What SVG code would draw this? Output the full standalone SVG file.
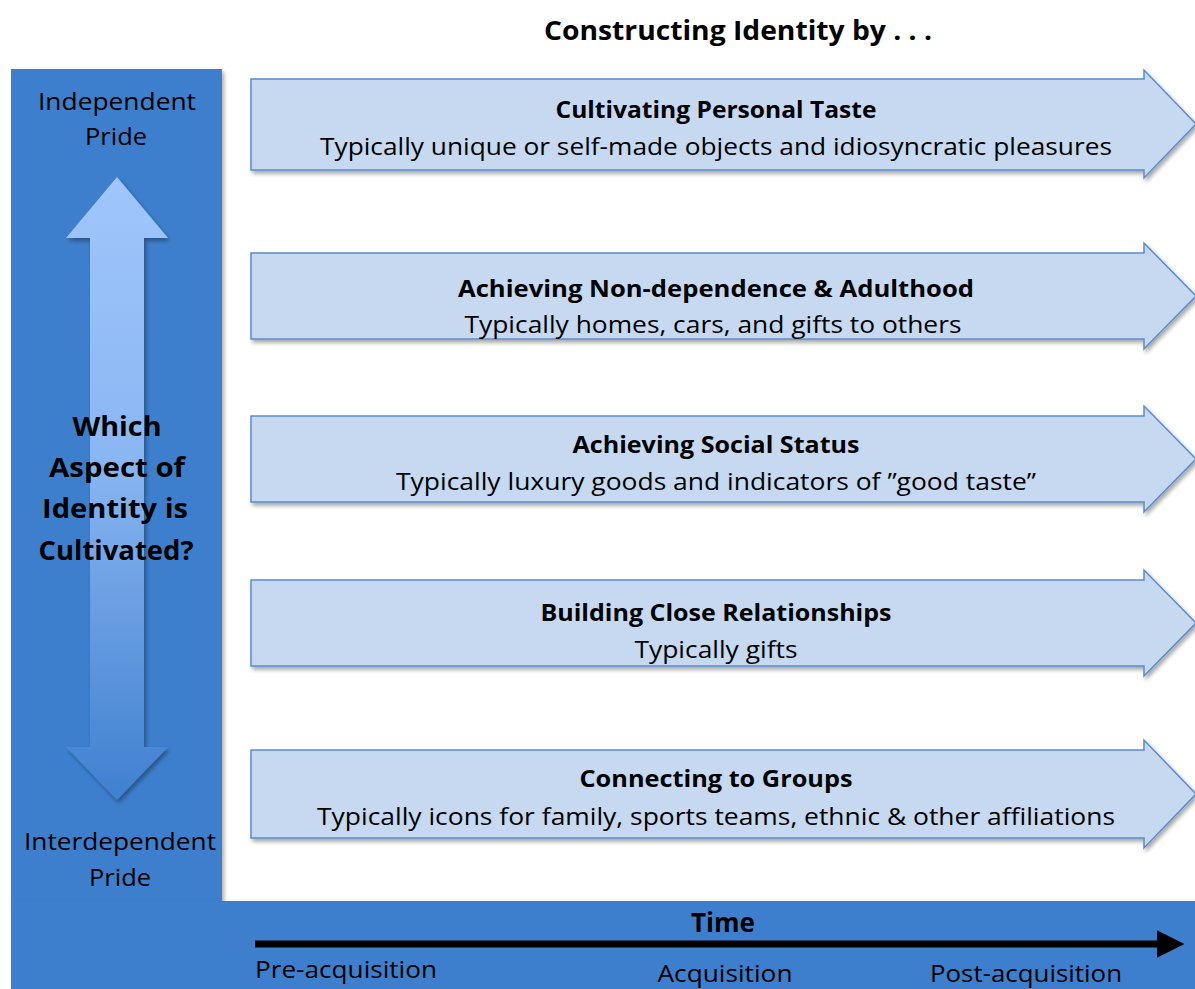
<svg xmlns="http://www.w3.org/2000/svg" width="1195" height="989" viewBox="0 0 1195 989">
<defs>
<linearGradient id="vg" x1="0" y1="0" x2="0" y2="1">
<stop offset="0" stop-color="#a0c6fc"/>
<stop offset="0.45" stop-color="#8ab6f2"/>
<stop offset="1" stop-color="#3f80cf"/>
</linearGradient>
<filter id="sh" x="-5%" y="-10%" width="115%" height="130%">
<feGaussianBlur in="SourceAlpha" stdDeviation="2"/>
<feOffset dx="2" dy="3" result="b"/>
<feComponentTransfer><feFuncA type="linear" slope="0.35"/></feComponentTransfer>
<feMerge><feMergeNode/><feMergeNode in="SourceGraphic"/></feMerge>
</filter>
<marker id="ah" markerWidth="4" markerHeight="4" refX="0.5" refY="2" orient="auto" markerUnits="strokeWidth">
<path d="M0,0 L4,2 L0,4 Z" fill="#000"/>
</marker>
</defs>
<style>
.band{fill:#3e7fcc}
.arr{fill:#c6d9f1;stroke:#5a8ccd;stroke-width:1.5}
.t{font-family:"Open Sans","Liberation Sans",sans-serif;fill:#000;text-anchor:middle}
.h{font-weight:bold;font-size:23px}
.s{font-size:23px}
</style>
<rect width="1195" height="989" fill="#fff"/>

<g id="title"><text class="t h" x="738" y="40" style="font-size:26px" textLength="388" lengthAdjust="spacingAndGlyphs">Constructing Identity by . . .</text></g>

<g id="left-panel">
<rect class="band" x="11" y="69" width="211" height="833" filter="url(#sh)"/>
<path d="M117,177 L168,238 L144,238 L144,747 L168,747 L117,800 L66,747 L90,747 L90,238 L66,238 Z" fill="url(#vg)" filter="url(#sh)"/>
<text class="t s" x="117" y="110" textLength="158" lengthAdjust="spacingAndGlyphs">Independent</text>
<text class="t s" x="116" y="145" textLength="62" lengthAdjust="spacingAndGlyphs">Pride</text>
<text class="t" font-weight="bold" font-size="26" x="117" y="436" textLength="89" lengthAdjust="spacingAndGlyphs">Which</text>
<text class="t" font-weight="bold" font-size="26" x="117" y="477" textLength="136" lengthAdjust="spacingAndGlyphs">Aspect of</text>
<text class="t" font-weight="bold" font-size="26" x="115" y="518" textLength="146" lengthAdjust="spacingAndGlyphs">Identity is</text>
<text class="t" font-weight="bold" font-size="26" x="116" y="560" textLength="155" lengthAdjust="spacingAndGlyphs">Cultivated?</text>
<text class="t s" x="120" y="850" textLength="192" lengthAdjust="spacingAndGlyphs">Interdependent</text>
<text class="t s" x="120" y="886" textLength="62" lengthAdjust="spacingAndGlyphs">Pride</text>
</g>

<g id="time-band">
<rect class="band" x="11" y="901" width="1190" height="90" filter="url(#sh)"/>
<text class="t" font-weight="bold" font-size="26" x="723" y="932">Time</text>
<line x1="255" y1="944" x2="1160" y2="944" stroke="#000" stroke-width="7" marker-end="url(#ah)"/>
<text class="t s" x="255" y="978" style="text-anchor:start" textLength="182" lengthAdjust="spacingAndGlyphs">Pre-acquisition</text>
<text class="t s" x="725" y="982" textLength="135" lengthAdjust="spacingAndGlyphs">Acquisition</text>
<text class="t s" x="1026" y="982" textLength="192" lengthAdjust="spacingAndGlyphs">Post-acquisition</text>
</g>

<g id="connectors"></g>

<g id="n1">
<path class="arr" filter="url(#sh)" d="M251,79 L1144,79 L1144,70 L1196,124 L1144,178 L1144,170 L251,170 Z"/>
<text class="t h" x="716" y="118" textLength="321" lengthAdjust="spacingAndGlyphs">Cultivating Personal Taste</text>
<text class="t s" x="716" y="155" textLength="792" lengthAdjust="spacingAndGlyphs">Typically unique or self-made objects and idiosyncratic pleasures</text>
</g>
<g id="n2">
<path class="arr" filter="url(#sh)" d="M251,253 L1144,253 L1144,243 L1196,296 L1144,349 L1144,339 L251,339 Z"/>
<text class="t h" x="716" y="297" textLength="516" lengthAdjust="spacingAndGlyphs">Achieving Non-dependence &amp; Adulthood</text>
<text class="t s" x="713" y="333" textLength="497" lengthAdjust="spacingAndGlyphs">Typically homes, cars, and gifts to others</text>
</g>
<g id="n3">
<path class="arr" filter="url(#sh)" d="M251,416 L1144,416 L1144,406 L1196,459 L1144,512 L1144,502 L251,502 Z"/>
<text class="t h" x="716" y="453" textLength="287" lengthAdjust="spacingAndGlyphs">Achieving Social Status</text>
<text class="t s" x="716" y="490" textLength="640" lengthAdjust="spacingAndGlyphs">Typically luxury goods and indicators of ”good taste”</text>
</g>
<g id="n4">
<path class="arr" filter="url(#sh)" d="M251,580 L1144,580 L1144,570 L1196,623 L1144,676 L1144,666 L251,666 Z"/>
<text class="t h" x="716" y="621" textLength="351" lengthAdjust="spacingAndGlyphs">Building Close Relationships</text>
<text class="t s" x="716" y="658" textLength="163" lengthAdjust="spacingAndGlyphs">Typically gifts</text>
</g>
<g id="n5">
<path class="arr" filter="url(#sh)" d="M251,750 L1144,750 L1144,740 L1196,794 L1144,848 L1144,838 L251,838 Z"/>
<text class="t h" x="716" y="787" textLength="273" lengthAdjust="spacingAndGlyphs">Connecting to Groups</text>
<text class="t s" x="716" y="825" textLength="798" lengthAdjust="spacingAndGlyphs">Typically icons for family, sports teams, ethnic &amp; other affiliations</text>
</g>
</svg>
